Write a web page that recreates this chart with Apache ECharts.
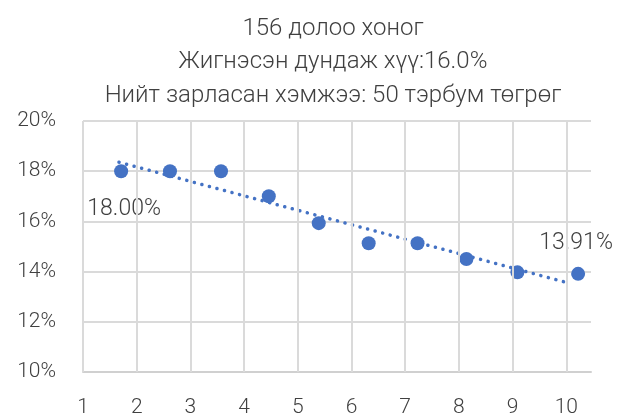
<!DOCTYPE html>
<html>
<head>
<meta charset="utf-8">
<script src="https://cdn.jsdelivr.net/npm/echarts@6/dist/echarts.min.js"></script>
<style>html,body{margin:0;padding:0;background:#fff}#c{width:627px;height:420px}</style>
</head>
<body>
<div id="c"></div>
<script>
const titleLines = ['156 долоо хоног', 'Жигнэсэн дундаж хүү:16.0%', 'Нийт зарласан хэмжээ: 50 тэрбум төгрөг'];
const xValues = [1.71, 2.62, 3.57, 4.46, 5.39, 6.32, 7.23, 8.14, 9.09, 10.22];
const yValues = [18.00, 18.00, 18.00, 17.00, 15.93, 15.13, 15.13, 14.50, 13.97, 13.91];
const xTicks = [1, 2, 3, 4, 5, 6, 7, 8, 9, 10];
const yTicks = [10, 12, 14, 16, 18, 20];
const trendX = [1.67, 9.98];
const trendY = [18.36, 13.58];
const labeledPoints = [0, 9];

const FONT = 'Roboto';
const blue = '#4472C4';
const gridColor = '#dadada';

const scatterData = xValues.map((x, i) => {
  const d = { value: [x, yValues[i]] };
  if (i === labeledPoints[0]) {
    d.label = { show: true, position: 'bottom', distance: 20, offset: [3, 0] };
  } else if (i === labeledPoints[1]) {
    d.label = { show: true, position: 'top', distance: 12, offset: [-2, 0] };
  }
  return d;
});

const chart = echarts.init(document.getElementById('c'), null, { renderer: 'canvas' });
chart.setOption({
  animation: false,
  backgroundColor: '#fff',
  title: {
    text: titleLines.join('\n'),
    left: 328,
    top: 7,
    textAlign: 'center',
    textStyle: { fontFamily: FONT, fontWeight: 300, fontSize: 24, lineHeight: 33.5, color: '#404040' }
  },
  grid: { left: 83, right: 36, top: 121, bottom: 48, containLabel: false },
  xAxis: {
    type: 'value',
    min: 1,
    max: 10.46,
    interval: 1,
    axisLine: { show: true, lineStyle: { color: '#d0d0d0', width: 2 } },
    axisTick: { show: false },
    axisLabel: { customValues: xTicks, margin: 25, fontFamily: FONT, fontWeight: 300, fontSize: 21, color: '#404040' },
    splitLine: { show: false }
  },
  yAxis: {
    type: 'value',
    min: yTicks[0],
    max: yTicks[yTicks.length - 1],
    interval: 2,
    axisLine: { show: false },
    axisTick: { show: false },
    axisLabel: { margin: 27, fontFamily: FONT, fontWeight: 300, fontSize: 21, color: '#404040', formatter: v => v + '%' },
    splitLine: { show: true, lineStyle: { color: gridColor, width: 2 } }
  },
  series: [
    {
      type: 'line',
      data: [],
      silent: true,
      markLine: {
        silent: true,
        symbol: 'none',
        label: { show: false },
        lineStyle: { color: gridColor, width: 2, type: 'solid' },
        data: xTicks.map(v => ({ xAxis: v }))
      },
      z: 1
    },
    {
      type: 'line',
      data: trendX.map((x, i) => [x, trendY[i]]),
      showSymbol: false,
      symbol: 'none',
      lineStyle: { color: blue, width: 3.5, type: [0.1, 7.7], cap: 'round' },
      z: 3
    },
    {
      type: 'scatter',
      data: scatterData,
      symbolSize: 14,
      itemStyle: { color: blue, opacity: 1 },
      label: {
        show: false,
        fontFamily: FONT, fontWeight: 300, fontSize: 23, color: '#404040',
        formatter: p => p.value[1].toFixed(2) + '%'
      },
      z: 4
    }
  ]
});
</script>
</body>
</html>
